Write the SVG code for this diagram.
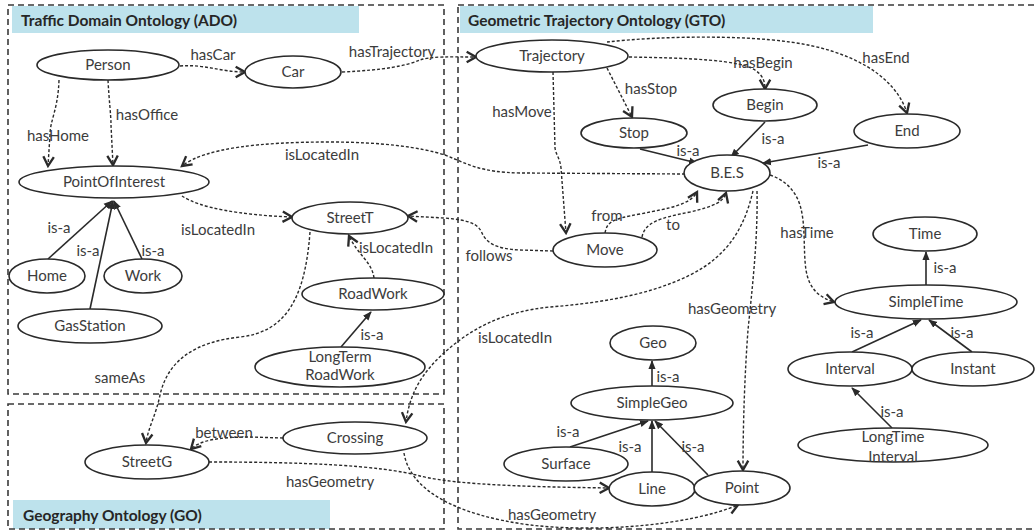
<svg xmlns="http://www.w3.org/2000/svg" width="1035" height="532" viewBox="0 0 1035 532">
  <style>
    text { font-family: Lato, "Open Sans", "Liberation Sans", sans-serif; font-size: 15px; fill: #3c3c3c; }
    .hdr { font-weight: bold; font-size: 15.5px; fill: #262626; }
    .node ellipse { fill: #fff; stroke: #2a2a2a; stroke-width: 1.6; }
    .node text { text-anchor: middle; }
    .lbl { text-anchor: middle; }
    .frame { fill: none; stroke: #3a3a3a; stroke-width: 1.6; stroke-dasharray: 6 4; }
    .band { fill: #bde2ec; }
    .rel { fill: none; stroke: #2a2a2a; stroke-width: 1.4; stroke-dasharray: 3 2; marker-end: url(#open); }
    .isa { fill: none; stroke: #2a2a2a; stroke-width: 1.6; marker-end: url(#solid); }
  </style>
  <defs>
    <marker id="open" markerUnits="userSpaceOnUse" markerWidth="14" markerHeight="14" viewBox="0 0 12 12" refX="10" refY="6" orient="auto">
      <path d="M2,1.5 L10,6 L2,10.5" fill="none" stroke="#2a2a2a" stroke-width="2"/>
    </marker>
    <marker id="solid" markerUnits="userSpaceOnUse" markerWidth="9" markerHeight="9" viewBox="0 0 10 10" refX="9" refY="5" orient="auto">
      <path d="M0,1 L10,5 L0,9 Z" fill="#2a2a2a"/>
    </marker>
  </defs>

  <!-- ontology frames -->
  <g id="frames">
    <rect class="band" x="12" y="6" width="347" height="27"/>
    <rect class="band" x="460" y="6" width="413" height="27"/>
    <rect class="band" x="13" y="500" width="317" height="29"/>
    <rect class="frame" x="8" y="5" width="436" height="389"/>
    <rect class="frame" x="8" y="404" width="436" height="125"/>
    <rect class="frame" x="458" y="5" width="590" height="524"/>
    <text class="hdr" x="21" y="26">Traffic Domain Ontology (ADO)</text>
    <text class="hdr" x="468" y="26">Geometric Trajectory Ontology (GTO)</text>
    <text class="hdr" x="23" y="521">Geography Ontology (GO)</text>
  </g>

  <!-- connectors -->
  <g id="connectors">
    <!-- traffic domain -->
    <path class="rel" d="M180,66 C205,64 220,72 245,72"/>
    <path class="rel" d="M342,72 C385,70 405,66 420,60 C432,56 450,57 476,57"/>
    <path class="rel" d="M59,80 C58,110 50,120 50,135 L48,166"/>
    <path class="rel" d="M108,80 C109,100 111,115 111,125 L113,165"/>
    <path class="rel" d="M685,174 L520,173 C480,172 470,165 445,155 C420,147 380,142 330,142 C260,142 205,148 182,166"/>
    <path class="rel" d="M182,196 C200,208 240,215 292,217"/>
    <path class="isa" d="M48,259 L112,201"/>
    <path class="isa" d="M90,309 L113,201"/>
    <path class="isa" d="M142,259 L114,201"/>
    <path class="rel" d="M374,278 C372,262 358,255 349,236"/>
    <path class="isa" d="M341,347 L371,312"/>
    <path class="rel" d="M310,232 C305,300 285,332 240,337 C195,342 168,360 160,395 C156,415 148,428 146,443"/>
    <!-- geography -->
    <path class="rel" d="M283,438 L250,437 C220,437 200,440 191,449"/>
    <path class="rel" d="M209,462 C300,462 380,465 420,476 C460,486 550,487 609,488"/>
    <path class="rel" d="M404,453 C410,490 455,515 530,525 C600,533 690,525 738,505"/>
    <!-- trajectory -->
    <path class="rel" d="M553,72 L555,148 C556,155 560,158 561,168 L566,233"/>
    <path class="rel" d="M607,68 L632,117"/>
    <path class="rel" d="M629,57 C690,58 740,60 755,70 C762,75 765,80 765,89"/>
    <path class="rel" d="M607,42 C660,36 740,35 790,42 C850,50 895,75 907,113"/>
    <path class="isa" d="M640,149 L697,163"/>
    <path class="isa" d="M765,122 L731,157"/>
    <path class="isa" d="M868,145 L763,163"/>
    <path class="rel" d="M605,233 C607,222 612,219 640,214 C670,208 690,205 697,192"/>
    <path class="rel" d="M642,237 C645,222 660,218 690,212 C715,206 723,202 726,193"/>
    <path class="rel" d="M553,251 L520,250 C495,249 486,242 482,233 C478,224 470,220 444,218 L408,216"/>
    <path class="rel" d="M753,191 C745,225 730,255 690,275 C650,295 600,303 550,307 C500,312 470,330 445,352 C425,370 410,390 406,422"/>
    <path class="rel" d="M757,191 C758,240 752,290 748,330 C745,370 743,420 743,470"/>
    <path class="rel" d="M770,175 C785,180 795,190 800,205 C806,225 803,250 806,270 C809,288 818,297 834,302"/>
    <path class="isa" d="M926,285 L926,252"/>
    <path class="isa" d="M852,352 L921,320"/>
    <path class="isa" d="M972,352 L929,320"/>
    <path class="isa" d="M892,428 L852,388"/>
    <path class="isa" d="M652,386 L652,361"/>
    <path class="isa" d="M570,447 L648,421"/>
    <path class="isa" d="M652,472 L652,421"/>
    <path class="isa" d="M708,475 L655,421"/>

    <!-- connector labels -->
    <text class="lbl" x="213" y="60">hasCar</text>
    <text class="lbl" x="392" y="57">hasTrajectory</text>
    <text class="lbl" x="58" y="141">hasHome</text>
    <text class="lbl" x="147" y="120">hasOffice</text>
    <text class="lbl" x="322" y="160">isLocatedIn</text>
    <text class="lbl" x="218" y="235">isLocatedIn</text>
    <text class="lbl" x="59" y="233">is-a</text>
    <text class="lbl" x="88" y="256">is-a</text>
    <text class="lbl" x="153" y="256">is-a</text>
    <text class="lbl" x="396" y="253">isLocatedIn</text>
    <text class="lbl" x="372" y="340">is-a</text>
    <text class="lbl" x="120" y="383">sameAs</text>
    <text class="lbl" x="224" y="438">between</text>
    <text class="lbl" x="330" y="487">hasGeometry</text>
    <text class="lbl" x="522" y="117">hasMove</text>
    <text class="lbl" x="651" y="94">hasStop</text>
    <text class="lbl" x="763" y="68">hasBegin</text>
    <text class="lbl" x="886" y="63">hasEnd</text>
    <text class="lbl" x="688" y="156">is-a</text>
    <text class="lbl" x="773" y="144">is-a</text>
    <text class="lbl" x="829" y="168">is-a</text>
    <text class="lbl" x="607" y="221">from</text>
    <text class="lbl" x="673" y="230">to</text>
    <text class="lbl" x="489" y="261">follows</text>
    <text class="lbl" x="807" y="238">hasTime</text>
    <text class="lbl" x="945" y="273">is-a</text>
    <text class="lbl" x="862" y="338">is-a</text>
    <text class="lbl" x="962" y="338">is-a</text>
    <text class="lbl" x="892" y="417">is-a</text>
    <text class="lbl" x="515" y="343">isLocatedIn</text>
    <text class="lbl" x="732" y="314">hasGeometry</text>
    <text class="lbl" x="668" y="382">is-a</text>
    <text class="lbl" x="568" y="437">is-a</text>
    <text class="lbl" x="630" y="452">is-a</text>
    <text class="lbl" x="693" y="452">is-a</text>
    <text class="lbl" x="552" y="520">hasGeometry</text>
  </g>

  <!-- traffic domain nodes -->
  <g id="person" class="node"><ellipse cx="108" cy="65" rx="71" ry="15"/><text x="108" y="70">Person</text></g>
  <g id="car" class="node"><ellipse cx="293" cy="72" rx="48" ry="16"/><text x="293" y="77">Car</text></g>
  <g id="point-of-interest" class="node"><ellipse cx="114" cy="182" rx="95" ry="16"/><text x="114" y="187">PointOfInterest</text></g>
  <g id="home" class="node"><ellipse cx="47" cy="276" rx="38" ry="17"/><text x="47" y="281">Home</text></g>
  <g id="work" class="node"><ellipse cx="143" cy="276" rx="39" ry="17"/><text x="143" y="281">Work</text></g>
  <g id="gas-station" class="node"><ellipse cx="90" cy="326" rx="72" ry="17"/><text x="90" y="331">GasStation</text></g>
  <g id="street-t" class="node"><ellipse cx="350" cy="218" rx="58" ry="16"/><text x="350" y="223">StreetT</text></g>
  <g id="road-work" class="node"><ellipse cx="373" cy="294" rx="71" ry="16"/><text x="373" y="299">RoadWork</text></g>
  <g id="long-term-road-work" class="node"><ellipse cx="340" cy="367" rx="85" ry="20"/><text x="340" y="362">LongTerm</text><text x="340" y="380">RoadWork</text></g>

  <!-- geography nodes -->
  <g id="street-g" class="node"><ellipse cx="147" cy="462" rx="62" ry="17"/><text x="147" y="467">StreetG</text></g>
  <g id="crossing" class="node"><ellipse cx="355" cy="438" rx="72" ry="16"/><text x="355" y="443">Crossing</text></g>

  <!-- trajectory nodes -->
  <g id="trajectory" class="node"><ellipse cx="552" cy="56" rx="76" ry="16"/><text x="552" y="61">Trajectory</text></g>
  <g id="stop" class="node"><ellipse cx="634" cy="133" rx="53" ry="15"/><text x="634" y="138">Stop</text></g>
  <g id="begin" class="node"><ellipse cx="765" cy="105" rx="52" ry="16"/><text x="765" y="110">Begin</text></g>
  <g id="end" class="node"><ellipse cx="907" cy="131" rx="53" ry="17"/><text x="907" y="136">End</text></g>
  <g id="bes" class="node"><ellipse cx="727" cy="173" rx="43" ry="18"/><text x="727" y="178">B.E.S</text></g>
  <g id="move" class="node"><ellipse cx="605" cy="250" rx="52" ry="17"/><text x="605" y="255">Move</text></g>
  <g id="time" class="node"><ellipse cx="925" cy="234" rx="52" ry="17"/><text x="925" y="239">Time</text></g>
  <g id="simple-time" class="node"><ellipse cx="926" cy="302" rx="91" ry="17"/><text x="926" y="307">SimpleTime</text></g>
  <g id="interval" class="node"><ellipse cx="850" cy="369" rx="62" ry="17"/><text x="850" y="374">Interval</text></g>
  <g id="instant" class="node"><ellipse cx="973" cy="369" rx="61" ry="17"/><text x="973" y="374">Instant</text></g>
  <g id="long-time-interval" class="node"><ellipse cx="893" cy="445" rx="95" ry="17"/><text x="893" y="442">LongTime</text><text x="893" y="462">Interval</text></g>
  <g id="geo" class="node"><ellipse cx="653" cy="343" rx="43" ry="17"/><text x="653" y="348">Geo</text></g>
  <g id="simple-geo" class="node"><ellipse cx="652" cy="403" rx="81" ry="17"/><text x="652" y="408">SimpleGeo</text></g>
  <g id="surface" class="node"><ellipse cx="566" cy="464" rx="62" ry="17"/><text x="566" y="469">Surface</text></g>
  <g id="line" class="node"><ellipse cx="652" cy="489" rx="43" ry="17"/><text x="652" y="494">Line</text></g>
  <g id="point" class="node"><ellipse cx="742" cy="488" rx="48" ry="17"/><text x="742" y="493">Point</text></g>
</svg>
